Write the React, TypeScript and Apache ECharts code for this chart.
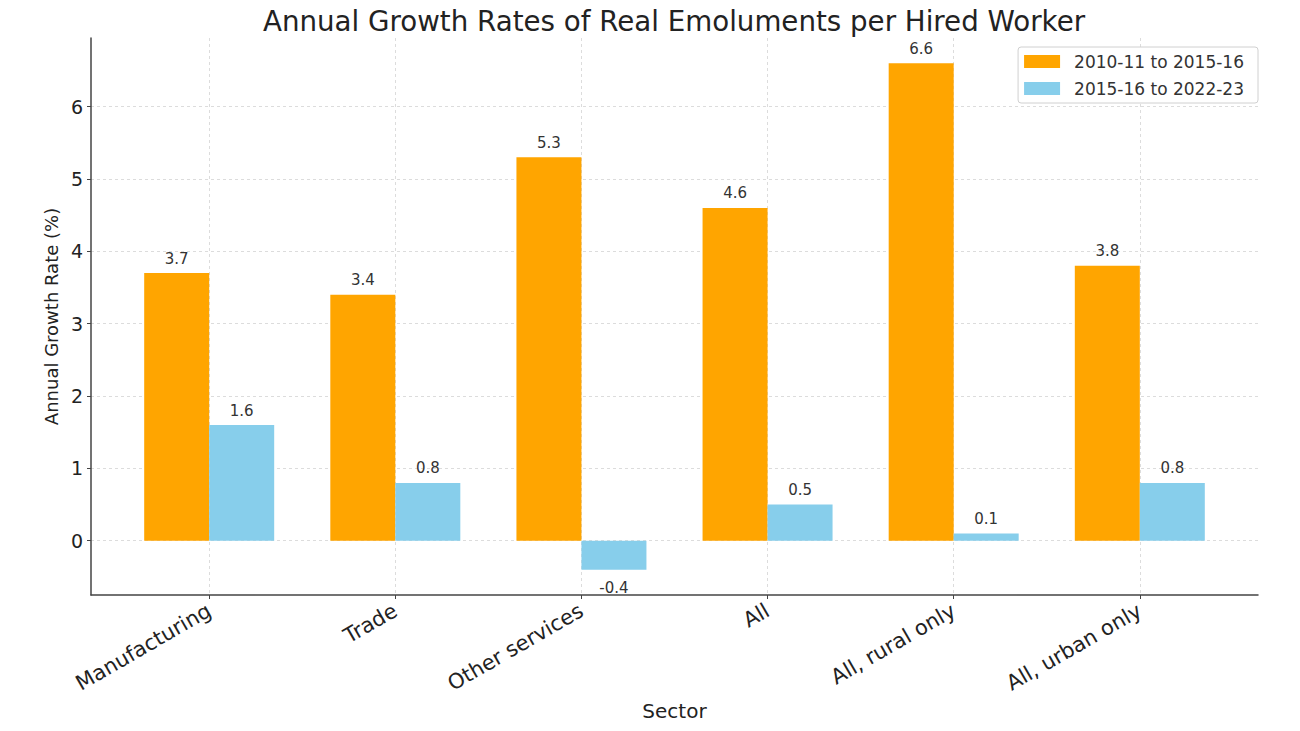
import React, { useEffect, useRef } from "react";
import * as echarts from "echarts";

const categories = [
  "Manufacturing",
  "Trade",
  "Other services",
  "All",
  "All, rural only",
  "All, urban only",
];
const seriesNames = ["2010-11 to 2015-16", "2015-16 to 2022-23"];
const period1 = [3.7, 3.4, 5.3, 4.6, 6.6, 3.8];
const period2 = [1.6, 0.8, -0.4, 0.5, 0.1, 0.8];
const yTickValues = [0, 1, 2, 3, 4, 5, 6];
const xTickValues = [0, 1, 2, 3, 4, 5];

const FONT = "DejaVu Sans";

function toData(values: number[]) {
  return values.map((v, i) =>
    v < 0
      ? { value: [i, v], label: { position: "bottom", distance: 11 } }
      : { value: [i, v] }
  );
}

export default function App() {
  const ref = useRef<HTMLDivElement>(null);

  useEffect(() => {
    document.body.style.margin = "0";
    const chart = echarts.init(ref.current!, null, { renderer: "svg" });
    const gridLine = { show: true, lineStyle: { color: "#dcdcdc", type: [3, 3], width: 1 } };
    const labelStyle = {
      show: true,
      position: "top",
      distance: 7,
      fontFamily: FONT,
      fontSize: 15,
      color: "#333",
      formatter: (p: any) => String(p.value[1]),
    };
    chart.setOption({
      animation: false,
      backgroundColor: "#fff",
      textStyle: { fontFamily: FONT },
      title: {
        text: "Annual Growth Rates of Real Emoluments per Hired Worker",
        left: 258,
        top: 2,
        textStyle: { fontFamily: FONT, fontSize: 27.7, fontWeight: "normal", color: "#222" },
      },
      legend: {
        orient: "vertical",
        right: 42,
        top: 47,
        itemWidth: 36,
        itemHeight: 13,
        itemGap: 10,
        padding: [6, 14, 6, 6],
        borderColor: "#d0d0d0",
        borderWidth: 1,
        borderRadius: 3,
        backgroundColor: "#fff",
        icon: "rect",
        textStyle: { fontFamily: FONT, fontSize: 17, color: "#333", padding: [0, 0, 0, 9] },
        data: seriesNames,
      },
      grid: { left: 91, right: 42, top: 38, bottom: 136, containLabel: false },
      xAxis: {
        type: "value",
        min: -0.635,
        max: 5.635,
        name: "Sector",
        nameLocation: "middle",
        nameGap: 104,
        nameTextStyle: { fontFamily: FONT, fontSize: 20, color: "#222" },
        axisLine: { show: true, onZero: false, lineStyle: { color: "#444", width: 1.5 } },
        axisTick: { show: true, customValues: xTickValues, length: 4, lineStyle: { color: "#444" } },
        axisLabel: {
          customValues: xTickValues,
          rotate: 30,
          margin: 14,
          fontFamily: FONT,
          fontSize: 21,
          color: "#222",
          formatter: (v: number) => categories[Math.round(v)] ?? "",
        },
        splitLine: gridLine,
      },
      yAxis: {
        type: "value",
        min: -0.75,
        max: 6.95,
        name: "Annual Growth Rate (%)",
        nameLocation: "middle",
        nameGap: 25,
        nameRotate: 90,
        nameTextStyle: { fontFamily: FONT, fontSize: 18, color: "#222" },
        axisLine: { show: true, onZero: false, lineStyle: { color: "#444", width: 1.5 } },
        axisTick: { show: true, customValues: yTickValues, length: 4, lineStyle: { color: "#444" } },
        axisLabel: {
          customValues: yTickValues,
          margin: 8,
          fontFamily: FONT,
          fontSize: 19,
          color: "#222",
        },
        splitLine: gridLine,
      },
      series: [
        {
          name: seriesNames[0],
          type: "bar",
          barWidth: 65,
          barGap: "0%",
          itemStyle: { color: "#FFA500" },
          label: labelStyle,
          data: toData(period1),
        },
        {
          name: seriesNames[1],
          type: "bar",
          barWidth: 65,
          barGap: "0%",
          itemStyle: { color: "#87CEEB" },
          label: labelStyle,
          data: toData(period2),
        },
      ],
    });
    return () => chart.dispose();
  }, []);

  return (
    <div
      ref={ref}
      style={{ position: "fixed", left: 0, top: 0, width: 1300, height: 731 }}
    />
  );
}
